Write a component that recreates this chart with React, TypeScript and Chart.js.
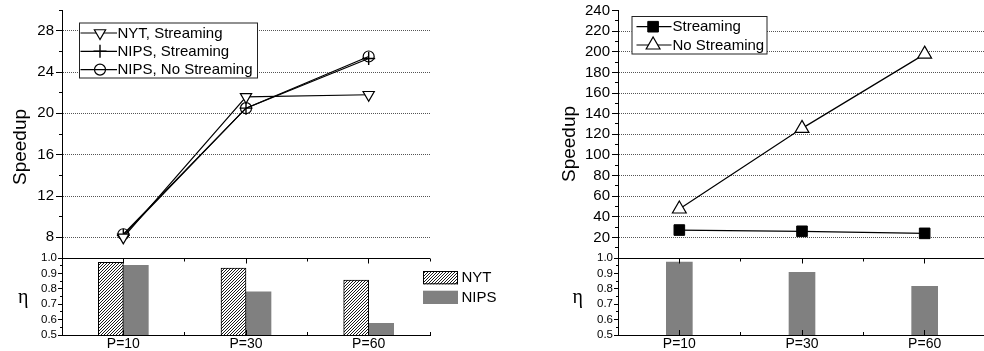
import React, { useEffect, useRef } from 'react';
import { Chart, registerables } from 'chart.js';
import { drawPoint } from 'chart.js/helpers';

Chart.register(...registerables);

const SANS = "'Liberation Sans', Arial, Helvetica, sans-serif";
const SERIF = "'Liberation Serif', 'Times New Roman', serif";

// ---------- data ----------
const categories = ['P=10', 'P=30', 'P=60'];

// left panel, speedup
const leftSpeedupLabels = ['NYT, Streaming', 'NIPS, Streaming', 'NIPS, No Streaming'];
const nytStreaming = [8.0, 21.6, 21.8];
const nipsStreaming = [8.2, 20.5, 25.3];
const nipsNoStreaming = [8.3, 20.5, 25.5];
const leftSpeedupTicks = [8, 12, 16, 20, 24, 28];

// left panel, efficiency
const leftEtaLabels = ['NYT', 'NIPS'];
const nytEta = [0.972, 0.935, 0.857];
const nipsEta = [0.953, 0.781, 0.576];
const etaTicks = [0.5, 0.6, 0.7, 0.8, 0.9, 1.0];

// right panel
const rightSpeedupLabels = ['Streaming', 'No Streaming'];
const streamingSpeedup = [27.1, 25.9, 23.9];
const noStreamingSpeedup = [47.5, 125.7, 197.7];
const rightSpeedupTicks = [20, 40, 60, 80, 100, 120, 140, 160, 180, 200, 220, 240];
const rightEtaLabel = 'Streaming';
const streamingEta = [0.974, 0.907, 0.816];

const speedupTitle = 'Speedup';
const etaTitle = 'η';

// ---------- helpers ----------
function seg(ctx: any, x1: number, y1: number, x2: number, y2: number) {
  ctx.beginPath();
  ctx.moveTo(x1, y1);
  ctx.lineTo(x2, y2);
  ctx.stroke();
}
const al = (v: number) => Math.round(v - 0.5) + 0.5;

function makeHatch() {
  const n = 3;
  const c = document.createElement('canvas');
  c.width = n;
  c.height = n;
  const g = c.getContext('2d') as CanvasRenderingContext2D;
  g.fillStyle = '#fff';
  g.fillRect(0, 0, n, n);
  g.strokeStyle = '#000';
  g.lineWidth = 0.9;
  g.beginPath();
  g.moveTo(0, n); g.lineTo(n, 0);
  g.moveTo(-1, 1); g.lineTo(1, -1);
  g.moveTo(n - 1, n + 1); g.lineTo(n + 1, n - 1);
  g.stroke();
  return g.createPattern(c, 'repeat');
}

function minorTicks(step: number, len: number) {
  return {
    id: 'minorTicks',
    afterDraw(chart: any) {
      const s = chart.scales.y;
      const ctx = chart.ctx;
      const n = Math.round((s.max - s.min) / step);
      ctx.save();
      ctx.strokeStyle = '#000';
      ctx.lineWidth = 1;
      for (let i = 0; i <= n; i++) {
        const y = al(s.getPixelForValue(s.min + i * step));
        seg(ctx, s.right - len, y, s.right, y);
      }
      ctx.restore();
    },
  };
}

function barFrame(major: number, minor: number) {
  return {
    id: 'barFrame',
    afterDraw(chart: any) {
      const { ctx, chartArea: a } = chart;
      const x = chart.scales.x;
      ctx.save();
      ctx.strokeStyle = '#000';
      ctx.lineWidth = 1;
      const top = al(a.top);
      const bot = a.bottom;
      seg(ctx, a.left, top, a.right, top);
      const n = x.ticks.length;
      for (let i = 0; i < n; i++) {
        const p = al(x.getPixelForTick(i));
        seg(ctx, p, bot, p, bot - major);
        seg(ctx, p, top, p, top + major);
      }
      for (let i = 1; i <= n; i++) {
        const p = al(x.getPixelForValue(i - 0.5));
        seg(ctx, p, bot, p, bot - minor);
        seg(ctx, p, top, p, top + minor);
      }
      ctx.restore();
    },
  };
}

function sideText(items: any[]) {
  return {
    id: 'sideText',
    afterDraw(chart: any) {
      const ctx = chart.ctx;
      items.forEach((it) => {
        ctx.save();
        ctx.translate(it.x, it.y);
        if (it.rotate) ctx.rotate(it.rotate);
        ctx.font = it.font;
        ctx.fillStyle = '#000';
        ctx.textAlign = 'center';
        ctx.textBaseline = it.baseline || 'middle';
        ctx.fillText(it.text, 0, 0);
        ctx.restore();
      });
    },
  };
}

function lineLegend(o: any) {
  return {
    id: 'lineLegend',
    afterDraw(chart: any) {
      const ctx = chart.ctx;
      ctx.save();
      ctx.fillStyle = '#fff';
      ctx.fillRect(o.x, o.y, o.w, o.h);
      ctx.strokeStyle = '#222';
      ctx.lineWidth = 1;
      ctx.strokeRect(o.x + 0.5, o.y + 0.5, o.w, o.h);
      ctx.font = `${o.fontSize}px ${SANS}`;
      ctx.textBaseline = 'middle';
      ctx.textAlign = 'left';
      chart.data.datasets.forEach((ds: any, i: number) => {
        const cy = o.y + o.row0 + i * o.rowGap;
        ctx.strokeStyle = '#000';
        ctx.lineWidth = ds.borderWidth;
        seg(ctx, o.x + o.lineFrom, cy, o.x + o.lineTo, cy);
        ctx.fillStyle = ds.pointBackgroundColor;
        ctx.strokeStyle = ds.pointBorderColor;
        ctx.lineWidth = ds.pointBorderWidth;
        drawPoint(ctx, {
          pointStyle: ds.pointStyle,
          rotation: ds.pointRotation || 0,
          radius: ds.pointRadius,
          borderWidth: ds.pointBorderWidth,
        } as any, o.x + o.markX, cy);
        ctx.fillStyle = '#000';
        ctx.fillText(ds.label, o.x + o.textX, cy + 0.5);
      });
      ctx.restore();
    },
  };
}

function barLegend(o: any) {
  return {
    id: 'barLegend',
    afterDraw(chart: any) {
      const ctx = chart.ctx;
      ctx.save();
      ctx.font = `${o.fontSize}px ${SANS}`;
      ctx.textBaseline = 'middle';
      ctx.textAlign = 'left';
      chart.data.datasets.forEach((ds: any, i: number) => {
        const y = o.y + i * o.rowGap;
        ctx.fillStyle = ds.backgroundColor;
        ctx.fillRect(o.x, y, o.w, o.h);
        if (ds.borderWidth) {
          ctx.strokeStyle = '#000';
          ctx.lineWidth = 1;
          ctx.strokeRect(o.x + 0.5, y + 0.5, o.w - 1, o.h - 1);
        }
        ctx.fillStyle = '#000';
        ctx.fillText(ds.label, o.textX, y + o.h / 2 + 0.5);
      });
      ctx.restore();
    },
  };
}

function speedupY(min: number, max: number, ticks: number[]) {
  return {
    type: 'linear',
    min,
    max,
    afterBuildTicks: (s: any) => { s.ticks = ticks.map((v) => ({ value: v })); },
    afterFit: (s: any) => { s.width = 62; s.paddingTop = 0; s.paddingBottom = 0; },
    ticks: { font: { family: SANS, size: 15 }, color: '#000', padding: 2, autoSkip: false },
    grid: {
      color: (c: any) => (c.tick && c.tick.value >= max ? 'rgba(0,0,0,0)' : '#555'),
      tickColor: '#000',
      tickLength: 6,
      lineWidth: 1,
      drawTicks: true,
    },
    border: { display: true, color: '#000', width: 1, dash: [1, 1] },
  };
}

function etaY() {
  return {
    type: 'linear',
    min: 0.5,
    max: 1.0,
    afterBuildTicks: (s: any) => { s.ticks = etaTicks.map((v) => ({ value: v })); },
    afterFit: (s: any) => { s.width = 62; s.paddingTop = 0; s.paddingBottom = 0; },
    ticks: {
      font: { family: SANS, size: 11.5 }, color: '#000', padding: 1, autoSkip: false,
      callback: (v: any) => Number(v).toFixed(1),
    },
    grid: { drawOnChartArea: false, drawTicks: true, tickLength: 4, color: '#000' },
    border: { display: true, color: '#000', width: 1 },
  };
}

function catX() {
  return {
    type: 'category',
    offset: true,
    afterFit: (s: any) => { s.height = 16; s.paddingLeft = 0; s.paddingRight = 0; },
    ticks: { font: { family: SANS, size: 14 }, color: '#000', padding: 1, maxRotation: 0, autoSkip: false },
    grid: { display: false, drawTicks: false },
    border: { display: true, color: '#000', width: 1 },
  };
}

const baseOpts = {
  responsive: false,
  animation: false,
  events: [],
  plugins: { legend: { display: false }, tooltip: { enabled: false } },
};

export default function App() {
  const lt = useRef<HTMLCanvasElement>(null);
  const lb = useRef<HTMLCanvasElement>(null);
  const rt = useRef<HTMLCanvasElement>(null);
  const rb = useRef<HTMLCanvasElement>(null);

  useEffect(() => {
    const charts: Chart[] = [];
    const hatch = makeHatch();

    // left top: speedup
    charts.push(new Chart(lt.current as HTMLCanvasElement, {
      type: 'line',
      data: {
        labels: categories,
        datasets: [
          {
            label: leftSpeedupLabels[0], data: nytStreaming, borderColor: '#000', borderWidth: 1.2, tension: 0,
            pointStyle: 'triangle', pointRotation: 180, pointRadius: 6.5,
            pointBackgroundColor: '#fff', pointBorderColor: '#000', pointBorderWidth: 1.2,
          },
          {
            label: leftSpeedupLabels[1], data: nipsStreaming, borderColor: '#000', borderWidth: 1.2, tension: 0,
            pointStyle: 'cross', pointRadius: 6.5,
            pointBackgroundColor: '#000', pointBorderColor: '#000', pointBorderWidth: 1.4,
          },
          {
            label: leftSpeedupLabels[2], data: nipsNoStreaming, borderColor: '#000', borderWidth: 1.2, tension: 0,
            pointStyle: 'circle', pointRadius: 5.5,
            pointBackgroundColor: 'rgba(255,255,255,0)', pointBorderColor: '#000', pointBorderWidth: 1.2,
          },
        ],
      } as any,
      options: {
        ...baseOpts,
        layout: { padding: { top: 10, right: 10, bottom: 12, left: 0 } },
        scales: {
          x: { type: 'category', offset: true, display: false },
          y: speedupY(6, 30, leftSpeedupTicks),
        },
      } as any,
      plugins: [
        minorTicks(2, 3),
        lineLegend({ x: 79, y: 22.5, w: 178, h: 55, row0: 10.5, rowGap: 18.3, lineFrom: 1.5, lineTo: 38, markX: 21, textX: 38.5, fontSize: 15 }),
        sideText([{ text: speedupTitle, x: 21, y: 147, rotate: -Math.PI / 2, font: `19px ${SANS}` }]),
      ] as any,
    }));

    // left bottom: efficiency
    charts.push(new Chart(lb.current as HTMLCanvasElement, {
      type: 'bar',
      data: {
        labels: categories,
        datasets: [
          { label: leftEtaLabels[0], data: nytEta, backgroundColor: hatch, borderColor: '#000', borderWidth: 1, barThickness: 25 },
          { label: leftEtaLabels[1], data: nipsEta, backgroundColor: '#808080', borderWidth: 0, barThickness: 25 },
        ],
      } as any,
      options: {
        ...baseOpts,
        layout: { padding: { top: 8, right: 100, bottom: 0, left: 0 } },
        scales: { x: catX(), y: etaY() },
      } as any,
      plugins: [
        minorTicks(0.05, 2),
        barFrame(5, 3),
        barLegend({ x: 423, y: 21, rowGap: 19.7, w: 35, h: 13.3, textX: 461.5, fontSize: 15 }),
        sideText([{ text: etaTitle, x: 23.3, y: 53, baseline: 'alphabetic', font: `20px ${SERIF}` }]),
      ] as any,
    }));

    // right top: speedup
    charts.push(new Chart(rt.current as HTMLCanvasElement, {
      type: 'line',
      data: {
        labels: categories,
        datasets: [
          {
            label: rightSpeedupLabels[0], data: streamingSpeedup, borderColor: '#000', borderWidth: 1.2, tension: 0,
            pointStyle: 'rect', pointRadius: 7.5,
            pointBackgroundColor: '#000', pointBorderColor: '#000', pointBorderWidth: 1,
          },
          {
            label: rightSpeedupLabels[1], data: noStreamingSpeedup, borderColor: '#000', borderWidth: 1.2, tension: 0,
            pointStyle: 'triangle', pointRadius: 8,
            pointBackgroundColor: '#fff', pointBorderColor: '#000', pointBorderWidth: 1.2,
          },
        ],
      } as any,
      options: {
        ...baseOpts,
        layout: { padding: { top: 10.5, right: 10, bottom: 12, left: 0 } },
        scales: {
          x: { type: 'category', offset: true, display: false },
          y: speedupY(0, 240, rightSpeedupTicks),
        },
      } as any,
      plugins: [
        minorTicks(10, 3),
        lineLegend({ x: 75.5, y: 16, w: 135, h: 37.5, row0: 10.7, rowGap: 18.3, lineFrom: 5, lineTo: 40, markX: 21.6, textX: 41, fontSize: 15 }),
        sideText([{ text: speedupTitle, x: 13.5, y: 144, rotate: -Math.PI / 2, font: `19px ${SANS}` }]),
      ] as any,
    }));

    // right bottom: efficiency
    charts.push(new Chart(rb.current as HTMLCanvasElement, {
      type: 'bar',
      data: {
        labels: categories,
        datasets: [
          { label: rightEtaLabel, data: streamingEta, backgroundColor: '#808080', borderWidth: 0, barThickness: 26 },
        ],
      } as any,
      options: {
        ...baseOpts,
        layout: { padding: { top: 8, right: 10, bottom: 0, left: 0 } },
        scales: { x: catX(), y: etaY() },
      } as any,
      plugins: [
        minorTicks(0.05, 2),
        barFrame(5, 3),
        sideText([{ text: etaTitle, x: 21.7, y: 53, baseline: 'alphabetic', font: `20px ${SERIF}` }]),
      ] as any,
    }));

    return () => charts.forEach((c) => c.destroy());
  }, []);

  const abs = (left: number, top: number, w: number, h: number): React.CSSProperties => ({
    position: 'absolute', left, top, width: w, height: h, display: 'block',
  });

  return (
    <div style={{ position: 'fixed', left: 0, top: 0, width: 984, height: 351, overflow: 'hidden', background: '#fff' }}>
      <canvas ref={lt} width={440} height={270} style={abs(0, 0, 440, 270)} />
      <canvas ref={rt} width={440} height={270} style={abs(556, 0, 440, 270)} />
      <canvas ref={lb} width={530} height={101} style={abs(0, 250, 530, 101)} />
      <canvas ref={rb} width={440} height={101} style={abs(556, 250, 440, 101)} />
    </div>
  );
}
